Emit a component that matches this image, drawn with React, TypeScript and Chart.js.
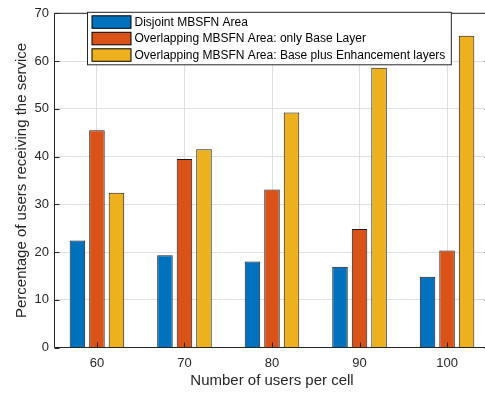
import React, { useEffect, useRef } from 'react';
import { Chart, registerables } from 'chart.js';

Chart.register(...registerables);

const categories = [60, 70, 80, 90, 100];
const seriesLabels = [
  'Disjoint MBSFN Area',
  'Overlapping MBSFN Area: only Base Layer',
  'Overlapping MBSFN Area: Base plus Enhancement layers',
];
const disjoint = [22.4, 19.3, 18.0, 16.9, 14.8];
const overlapBase = [45.5, 39.5, 33.1, 24.8, 20.3];
const overlapEnhanced = [32.4, 41.5, 49.2, 58.6, 65.3];
const yTicks = [0, 10, 20, 30, 40, 50, 60, 70];
const seriesColors = ['#0072BD', '#D95319', '#EDB120'];

const FONT = '"Liberation Sans", Arial, Helvetica, sans-serif';
const AXIS_COLOR = '#262626';

const boxPlugin = {
  id: 'matlabBox',
  afterDatasetsDraw(chart: any) {
    const { ctx, chartArea, scales } = chart;
    const { left, right, top, bottom } = chartArea;
    const x = scales.x;
    const y = scales.y;
    const tl = 5;
    ctx.save();
    ctx.strokeStyle = AXIS_COLOR;
    ctx.lineWidth = 1;
    ctx.beginPath();
    ctx.rect(left, top, right - left, bottom - top);
    ctx.stroke();
    ctx.beginPath();
    x.ticks.forEach((t: any) => {
      const px = Math.round(x.getPixelForValue(t.value)) + 0.5;
      ctx.moveTo(px, bottom);
      ctx.lineTo(px, bottom - tl);
      ctx.moveTo(px, top);
      ctx.lineTo(px, top + tl);
    });
    y.ticks.forEach((t: any) => {
      const py = Math.round(y.getPixelForValue(t.value)) + 0.5;
      ctx.moveTo(left, py);
      ctx.lineTo(left + tl, py);
      ctx.moveTo(right, py);
      ctx.lineTo(right - tl, py);
    });
    ctx.stroke();
    ctx.restore();
  },
};

const legendPlugin = {
  id: 'boxedLegend',
  afterDraw(chart: any) {
    const { ctx, chartArea } = chart;
    const datasets = chart.data.datasets;
    const x0 = chartArea.left + 33;
    const y0 = chartArea.top - 1;
    const swW = 39;
    const swH = 12.5;
    const rowStep = 16.5;
    const padL = 4.5;
    const padT = 3.5;
    const gap = 3.5;
    ctx.save();
    ctx.font = '12px ' + FONT;
    const textW = Math.max(...datasets.map((d: any) => ctx.measureText(d.label).width));
    const w = padL + swW + gap + textW + 6;
    const h = padT * 2 + rowStep * (datasets.length - 1) + swH;
    ctx.fillStyle = '#ffffff';
    ctx.fillRect(x0, y0, w, h);
    ctx.strokeStyle = AXIS_COLOR;
    ctx.lineWidth = 1;
    ctx.strokeRect(x0, y0, w, h);
    datasets.forEach((d: any, i: number) => {
      const sy = y0 + padT + i * rowStep;
      ctx.fillStyle = d.backgroundColor;
      ctx.fillRect(x0 + padL, sy, swW, swH);
      ctx.strokeStyle = '#000000';
      ctx.strokeRect(x0 + padL, sy, swW, swH);
      ctx.fillStyle = '#000000';
      ctx.textBaseline = 'middle';
      ctx.textAlign = 'left';
      ctx.fillText(d.label, x0 + padL + swW + gap, sy + swH / 2 + 0.5);
    });
    ctx.restore();
  },
};

export default function App() {
  const canvasRef = useRef<HTMLCanvasElement | null>(null);

  useEffect(() => {
    if (!canvasRef.current) return;
    const series = [disjoint, overlapBase, overlapEnhanced];
    const chart = new Chart(canvasRef.current, {
      type: 'bar',
      data: {
        datasets: series.map((vals, si) => ({
          label: seriesLabels[si],
          data: categories.map((c, i) => ({ x: c, y: vals[i] })),
          backgroundColor: seriesColors[si],
          borderColor: '#1a1a1a',
          borderWidth: 1,
          categoryPercentage: 0.669,
          barPercentage: 0.795,
        })),
      },
      options: {
        responsive: false,
        animation: false,
        layout: { padding: { top: 4.5, right: 10.5, left: 0, bottom: 0 } },
        plugins: {
          legend: { display: false },
          tooltip: { enabled: false },
        },
        scales: {
          x: {
            type: 'linear',
            min: 55.15,
            max: 104.85,
            offset: false,
            afterBuildTicks: (s: any) => {
              s.ticks = categories.map((v) => ({ value: v }));
            },
            grid: { color: '#dfdfdf', drawTicks: false, offset: false },
            border: { display: false },
            ticks: {
              font: { size: 13, family: FONT },
              color: AXIS_COLOR,
              padding: 8,
              maxRotation: 0,
              autoSkip: false,
            },
            title: {
              display: true,
              text: 'Number of users per cell',
              font: { size: 15, family: FONT },
              color: AXIS_COLOR,
              padding: { top: 0, bottom: 4 },
            },
            afterFit: (s: any) => {
              s.height = 46.5;
            },
          },
          y: {
            type: 'linear',
            min: 0,
            max: 70,
            afterBuildTicks: (s: any) => {
              s.ticks = yTicks.map((v) => ({ value: v }));
            },
            grid: { color: '#dfdfdf', drawTicks: false },
            border: { display: false },
            ticks: {
              font: { size: 13, family: FONT },
              color: AXIS_COLOR,
              padding: 5.5,
            },
            title: {
              display: true,
              text: 'Percentage of users receiving the service',
              font: { size: 15, family: FONT },
              color: AXIS_COLOR,
              padding: { top: 12.5, bottom: 0 },
            },
            afterFit: (s: any) => {
              s.width = 54.5;
            },
          },
        },
      },
      plugins: [boxPlugin, legendPlugin],
    } as any);
    return () => chart.destroy();
  }, []);

  return (
    <div
      style={{
        position: 'fixed',
        left: 0,
        top: 0,
        width: 485,
        height: 394,
        overflow: 'hidden',
        background: '#ffffff',
      }}
    >
      <canvas ref={canvasRef} width={500} height={394} style={{ display: 'block' }} />
    </div>
  );
}
